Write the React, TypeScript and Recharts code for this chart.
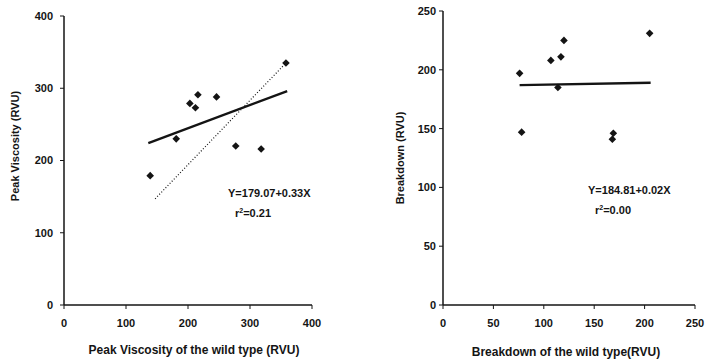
import React from "react";
import { ReferenceLine, Scatter, ScatterChart, XAxis, YAxis } from "recharts";

// left panel: peak viscosity
const peakWild = [139, 181, 203, 212, 216, 246, 277, 318, 358];
const peakMutant = [179, 230, 279, 273, 291, 288, 220, 216, 335];
const peakFit = [
  [136, 224],
  [360, 296],
];
const peakDotted = [
  [147, 147],
  [358, 335],
];
const peakTicks = [0, 100, 200, 300, 400];

// right panel: breakdown
const breakWild = [76, 78, 107, 114, 117, 120, 168, 169, 205];
const breakMutant = [197, 147, 208, 185, 211, 225, 141, 146, 231];
const breakFit = [
  [76, 187],
  [206, 189],
];
const breakTicks = [0, 50, 100, 150, 200, 250];

const FONT = "'Liberation Sans', Arial, sans-serif";
const INK = "#141414";

const peakData = peakWild.map((x, i) => ({ x, y: peakMutant[i] }));
const breakData = breakWild.map((x, i) => ({ x, y: breakMutant[i] }));

function Diamond(props: any) {
  const { cx, cy } = props;
  const r = 3.8;
  return (
    <path
      d={`M${cx},${cy - r}L${cx + r},${cy}L${cx},${cy + r}L${cx - r},${cy}Z`}
      fill={INK}
    />
  );
}

const tickStyle = { fill: INK, fontSize: 11, fontWeight: 700, fontFamily: FONT };
const axisLine = { stroke: INK, strokeWidth: 1.5 };

function Txt({
  x,
  y,
  children,
  rotate,
  anchor = "center",
  size = 11,
}: {
  x: number;
  y: number;
  children: React.ReactNode;
  rotate?: boolean;
  anchor?: "center" | "left";
  size?: number;
}) {
  const tx = anchor === "center" ? "-50%" : "0";
  return (
    <div
      style={{
        position: "absolute",
        left: x,
        top: y,
        transform: `translate(${tx}, -50%)${rotate ? " rotate(-90deg)" : ""}`,
        whiteSpace: "nowrap",
        fontFamily: FONT,
        fontWeight: 700,
        fontSize: size,
        lineHeight: 1,
        color: INK,
      }}
    >
      {children}
    </div>
  );
}

export default function App() {
  return (
    <div
      style={{
        position: "absolute",
        left: 0,
        top: 0,
        width: 705,
        height: 363,
        background: "#fff",
        overflow: "hidden",
      }}
    >
      <div style={{ position: "absolute", left: 0, top: 0 }}>
        <ScatterChart
          width={340}
          height={363}
          margin={{ top: 16, right: 28, bottom: 28, left: 24 }}
        >
          <XAxis
            type="number"
            dataKey="x"
            domain={[0, 400]}
            ticks={peakTicks}
            height={30}
            tickSize={4}
            tickMargin={10}
            tick={tickStyle}
            axisLine={axisLine}
            tickLine={{ stroke: INK }}
          />
          <YAxis
            type="number"
            dataKey="y"
            domain={[0, 400]}
            ticks={peakTicks}
            width={40}
            tickSize={4}
            tickMargin={7}
            tick={tickStyle}
            axisLine={axisLine}
            tickLine={{ stroke: INK }}
          />
          <ReferenceLine
            segment={peakDotted.map(([x, y]) => ({ x, y }))}
            stroke={INK}
            strokeWidth={1.2}
            strokeDasharray="1 2"
          />
          <ReferenceLine
            segment={peakFit.map(([x, y]) => ({ x, y }))}
            stroke={INK}
            strokeWidth={2.4}
          />
          <Scatter data={peakData} shape={<Diamond />} isAnimationActive={false} />
        </ScatterChart>
      </div>

      <div style={{ position: "absolute", left: 360, top: 0 }}>
        <ScatterChart
          width={345}
          height={363}
          margin={{ top: 11, right: 10, bottom: 28, left: 43 }}
        >
          <XAxis
            type="number"
            dataKey="x"
            domain={[0, 250]}
            ticks={breakTicks}
            height={30}
            tickSize={4}
            tickMargin={10}
            tick={tickStyle}
            axisLine={axisLine}
            tickLine={{ stroke: INK }}
          />
          <YAxis
            type="number"
            dataKey="y"
            domain={[0, 250]}
            ticks={breakTicks}
            width={40}
            tickSize={4}
            tickMargin={3}
            tick={tickStyle}
            axisLine={axisLine}
            tickLine={{ stroke: INK }}
          />
          <ReferenceLine
            segment={breakFit.map(([x, y]) => ({ x, y }))}
            stroke={INK}
            strokeWidth={2.4}
          />
          <Scatter data={breakData} shape={<Diamond />} isAnimationActive={false} />
        </ScatterChart>
      </div>

      <Txt x={194} y={350} size={12}>
        Peak Viscosity of the wild type (RVU)
      </Txt>
      <Txt x={15} y={146} rotate>
        Peak Viscosity (RVU)
      </Txt>
      <Txt x={228} y={193} anchor="left">
        Y=179.07+0.33X
      </Txt>
      <Txt x={235} y={213} anchor="left">
        r<sup style={{ fontSize: 7, verticalAlign: "4px" }}>2</sup>=0.21
      </Txt>

      <Txt x={566} y={352} size={12}>
        Breakdown of the wild type(RVU)
      </Txt>
      <Txt x={400} y={158} rotate>
        Breakdown (RVU)
      </Txt>
      <Txt x={588} y={190} anchor="left">
        Y=184.81+0.02X
      </Txt>
      <Txt x={595} y={210} anchor="left">
        r<sup style={{ fontSize: 7, verticalAlign: "4px" }}>2</sup>=0.00
      </Txt>
    </div>
  );
}
